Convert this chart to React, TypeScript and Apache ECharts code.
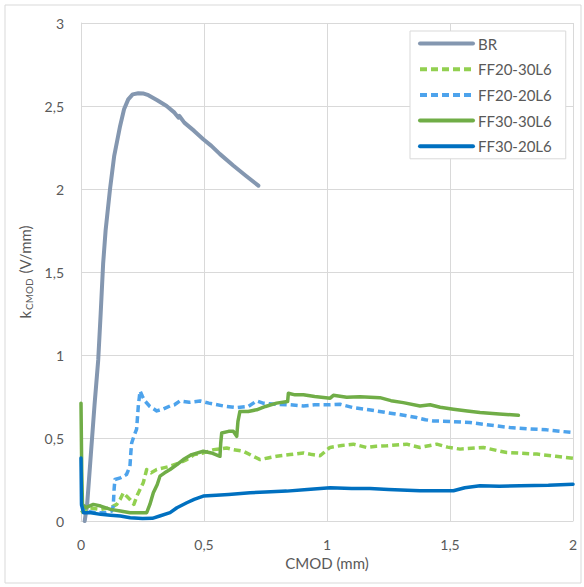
import React, { useEffect, useRef } from "react";
import * as echarts from "echarts";

const xTicks = [0, 0.5, 1, 1.5, 2];
const yTicks = [0, 0.5, 1, 1.5, 2, 2.5, 3];
const seriesNames = ["BR", "FF20-30L6", "FF20-20L6", "FF30-30L6", "FF30-20L6"];

const br: number[][] = [
  [0.015, 0], [0.025, 0.1], [0.04, 0.4], [0.055, 0.7], [0.07, 0.97], [0.08, 1.25], [0.09, 1.55],
  [0.1, 1.75], [0.118, 2.0], [0.135, 2.2], [0.159, 2.38], [0.175, 2.48], [0.192, 2.54], [0.21, 2.57],
  [0.233, 2.577], [0.255, 2.575], [0.274, 2.565], [0.31, 2.535], [0.348, 2.5], [0.38, 2.46],
  [0.396, 2.43], [0.4, 2.44], [0.42, 2.4], [0.46, 2.35], [0.497, 2.3], [0.53, 2.26], [0.565, 2.21],
  [0.62, 2.14], [0.67, 2.08], [0.721, 2.02],
];

const ff2030: number[][] = [
  [0, 0.05], [0.03, 0.08], [0.08, 0.07], [0.12, 0.08], [0.145, 0.1], [0.159, 0.13], [0.172, 0.17],
  [0.185, 0.15], [0.199, 0.13], [0.215, 0.1], [0.23, 0.16], [0.253, 0.23], [0.267, 0.31], [0.285, 0.29],
  [0.308, 0.31], [0.335, 0.32], [0.362, 0.33], [0.4, 0.35], [0.43, 0.37], [0.46, 0.4], [0.497, 0.41],
  [0.54, 0.43], [0.592, 0.44], [0.62, 0.43], [0.66, 0.42], [0.7, 0.39], [0.728, 0.37], [0.76, 0.38],
  [0.795, 0.39], [0.85, 0.4], [0.904, 0.41], [0.94, 0.4], [0.972, 0.393], [1.012, 0.443], [1.06, 0.455],
  [1.107, 0.463], [1.161, 0.443], [1.2, 0.45], [1.243, 0.453], [1.324, 0.463], [1.378, 0.443],
  [1.446, 0.463], [1.49, 0.445], [1.541, 0.433], [1.636, 0.443], [1.69, 0.425], [1.731, 0.413],
  [1.853, 0.403], [1.93, 0.39], [2.0, 0.378],
];

const ff2020: number[][] = [
  [0, 0.1], [0.02, 0.06], [0.06, 0.05], [0.1, 0.05], [0.125, 0.06], [0.131, 0.09], [0.135, 0.2],
  [0.138, 0.25], [0.16, 0.26], [0.185, 0.28], [0.199, 0.33], [0.203, 0.42], [0.206, 0.47], [0.215, 0.51],
  [0.226, 0.553], [0.233, 0.693], [0.24, 0.783], [0.25, 0.75], [0.26, 0.723], [0.28, 0.69], [0.308, 0.663],
  [0.335, 0.675], [0.362, 0.693], [0.38, 0.7], [0.402, 0.723], [0.44, 0.715], [0.484, 0.723], [0.52, 0.71],
  [0.579, 0.693], [0.633, 0.683], [0.68, 0.69], [0.714, 0.723], [0.74, 0.71], [0.795, 0.703], [0.85, 0.7],
  [0.904, 0.693], [0.95, 0.7], [1.013, 0.7], [1.053, 0.703], [1.107, 0.683], [1.17, 0.67], [1.243, 0.653],
  [1.3, 0.64], [1.364, 0.623], [1.4, 0.61], [1.432, 0.603], [1.5, 0.6], [1.581, 0.593], [1.65, 0.58],
  [1.744, 0.563], [1.82, 0.555], [1.893, 0.549], [1.95, 0.54], [2.0, 0.533],
];

const ff3030: number[][] = [
  [0, 0.71], [0.003, 0.3], [0.006, 0.1], [0.02, 0.08], [0.05, 0.1], [0.08, 0.09], [0.12, 0.07],
  [0.16, 0.06], [0.2, 0.05], [0.24, 0.05], [0.267, 0.05], [0.28, 0.1], [0.294, 0.17], [0.31, 0.22],
  [0.321, 0.27], [0.34, 0.29], [0.362, 0.31], [0.39, 0.34], [0.416, 0.37], [0.45, 0.4], [0.497, 0.42],
  [0.53, 0.41], [0.565, 0.39], [0.568, 0.47], [0.572, 0.53], [0.6, 0.54], [0.619, 0.54], [0.633, 0.51],
  [0.638, 0.6], [0.646, 0.66], [0.68, 0.66], [0.714, 0.67], [0.75, 0.69], [0.795, 0.71], [0.84, 0.72],
  [0.843, 0.77], [0.87, 0.76], [0.904, 0.76], [0.95, 0.75], [1.013, 0.74], [1.026, 0.757], [1.08, 0.745],
  [1.134, 0.749], [1.215, 0.743], [1.26, 0.725], [1.31, 0.713], [1.378, 0.693], [1.419, 0.7],
  [1.46, 0.685], [1.514, 0.673], [1.57, 0.662], [1.622, 0.653], [1.7, 0.645], [1.778, 0.637],
];

const ff3020: number[][] = [
  [0, 0.38], [0.002, 0.1], [0.01, 0.05], [0.04, 0.05], [0.08, 0.04], [0.12, 0.035], [0.16, 0.03],
  [0.2, 0.02], [0.25, 0.015], [0.29, 0.016], [0.32, 0.03], [0.362, 0.05], [0.39, 0.08], [0.43, 0.11],
  [0.46, 0.13], [0.497, 0.15], [0.55, 0.155], [0.6, 0.16], [0.687, 0.17], [0.75, 0.175], [0.836, 0.18],
  [0.92, 0.19], [1.013, 0.2], [1.1, 0.196], [1.175, 0.196], [1.25, 0.19], [1.378, 0.182], [1.514, 0.182],
  [1.56, 0.2], [1.622, 0.212], [1.7, 0.21], [1.785, 0.212], [1.9, 0.215], [2.0, 0.222],
];

const seriesData = [br, ff2030, ff2020, ff3030, ff3020];
const colors = ["#8497b0", "#92d050", "#4da3ec", "#70ad47", "#0070c0"];
const dashed = [false, true, true, false, false];

const FONT = "Lato, 'Open Sans', sans-serif";
const TXT = "#595959";
const GRID = "#d9d9d9";

export default function App() {
  const ref = useRef<HTMLDivElement>(null);
  useEffect(() => {
    if (!ref.current) return;
    const chart = echarts.init(ref.current, undefined, { renderer: "svg" });
    const fmt = (v: number) => String(v).replace(".", ",");
    chart.setOption({
      animation: false,
      backgroundColor: "#ffffff",
      textStyle: { fontFamily: FONT },
      graphic: [
        {
          type: "rect",
          shape: { x: 5, y: 5, width: 576, height: 578 },
          style: { fill: "none", stroke: GRID, lineWidth: 1 },
          silent: true,
          z: -1,
        },
      ],
      grid: { left: 81, right: 11, top: 23, bottom: 66, containLabel: false },
      legend: {
        data: seriesNames,
        orient: "vertical",
        left: 410,
        top: 31,
        padding: [5, 14, 5, 8],
        backgroundColor: "#ffffff",
        borderColor: GRID,
        borderWidth: 1,
        borderRadius: 0,
        itemWidth: 53,
        itemHeight: 14,
        itemGap: 10.7,
        itemStyle: { opacity: 0 },
        lineStyle: { width: 4 },
        textStyle: { fontSize: 15, color: TXT, fontFamily: FONT },
      },
      xAxis: {
        type: "value",
        min: 0,
        max: 2,
        interval: 0.5,
        name: "CMOD (mm)",
        nameLocation: "middle",
        nameGap: 32,
        nameTextStyle: { fontSize: 15, color: TXT, fontFamily: FONT },
        axisLine: { show: true, lineStyle: { color: GRID } },
        axisTick: { show: false },
        axisLabel: { formatter: fmt, fontSize: 14, color: TXT, margin: 16, fontFamily: FONT },
        splitLine: { show: true, lineStyle: { color: GRID, width: 1 } },
      },
      yAxis: {
        type: "value",
        min: 0,
        max: 3,
        interval: 0.5,
        name: "k{sub|CMOD} (V/mm)",
        nameLocation: "middle",
        nameGap: 44,
        nameRotate: 90,
        nameTextStyle: {
          fontSize: 15,
          color: TXT,
          fontFamily: FONT,
          rich: {
            sub: { fontSize: 10, color: TXT, fontFamily: FONT, padding: [7, 1, 0, 1] },
          },
        },
        axisLine: { show: true, lineStyle: { color: GRID } },
        axisTick: { show: false },
        axisLabel: { formatter: fmt, fontSize: 14, color: TXT, margin: 17, fontFamily: FONT },
        splitLine: { show: true, lineStyle: { color: GRID, width: 1 } },
      },
      series: seriesNames.map((name, i) => ({
        name,
        type: "line",
        data: seriesData[i],
        showSymbol: false,
        symbol: "none",
        color: colors[i],
        lineStyle: {
          color: colors[i],
          width: i === 0 ? 4 : 3.5,
          type: dashed[i] ? [7, 4] : "solid",
          cap: dashed[i] ? "butt" : "round",
          join: "round",
        },
        z: 2 + i,
      })),
    });
    return () => chart.dispose();
  }, []);
  return (
    <div
      ref={ref}
      style={{ position: "fixed", left: 0, top: 0, width: 584, height: 587 }}
    />
  );
}
